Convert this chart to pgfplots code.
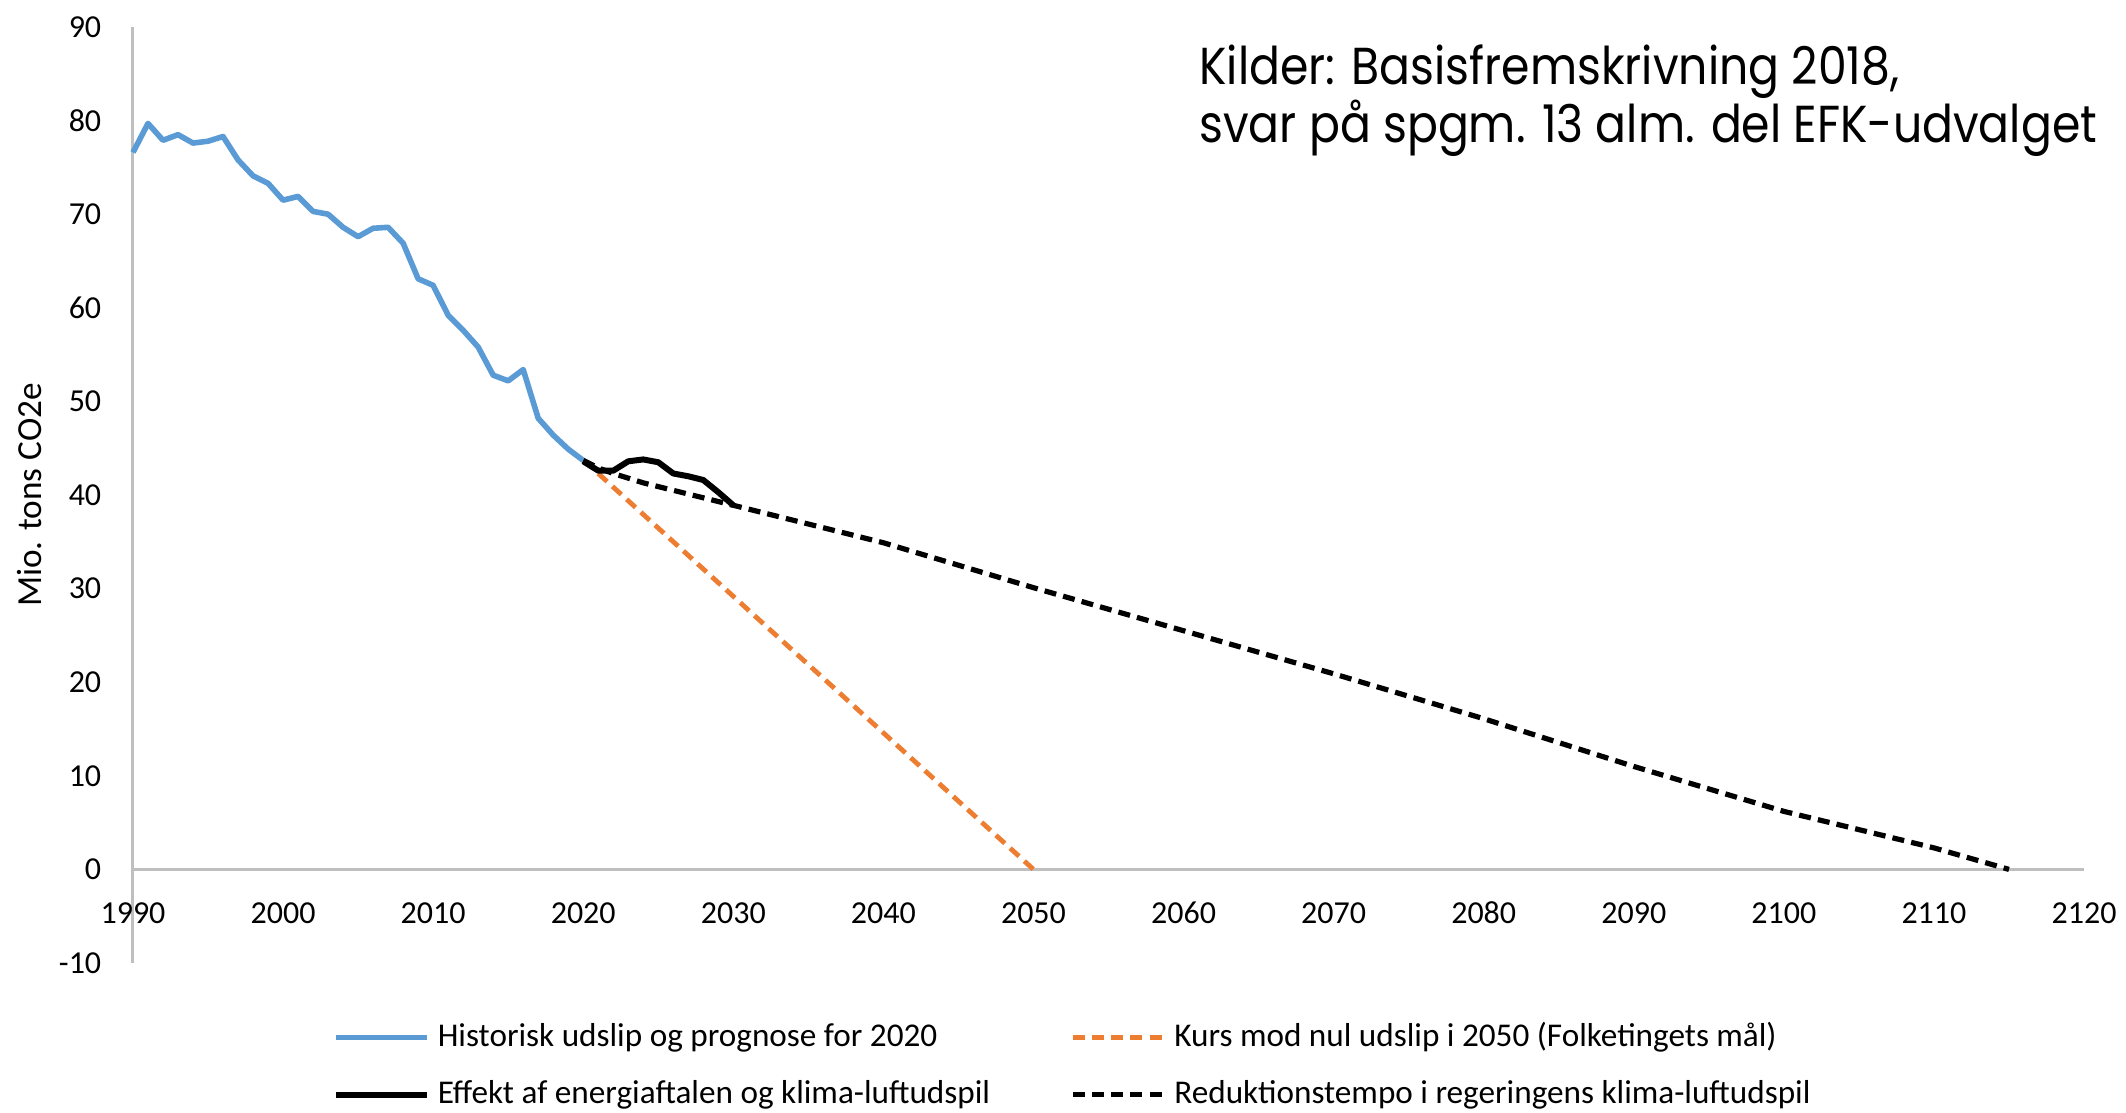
\documentclass[border=0pt]{standalone}
\usepackage{pgfplots}
\pgfplotsset{compat=1.18}
\usepackage{fontspec}
\setmainfont{Carlito}
\newfontfamily\annfont{Poppins}
\usepackage{graphicx}
\definecolor{histblue}{HTML}{5B9BD5}
\definecolor{kursorange}{HTML}{ED7D31}
\definecolor{axisgray}{HTML}{BFBFBF}
\begin{document}
\begin{tikzpicture}
\path[use as bounding box] (-33.25pt,-37.35pt) rectangle (498.25pt,240.75pt);
\begin{axis}[
  scale only axis, width=487.75pt, height=234pt,
  xmin=1990, xmax=2120, ymin=-10, ymax=90,
  axis x line*=middle, axis y line*=left,
  axis line style={axisgray, line width=0.75pt, -},
  xtick={1990,2000,...,2120}, ytick={-10,0,...,90},
  major tick length=0pt,
  hide obscured x ticks=false, hide obscured y ticks=false,
  /pgf/number format/assume math mode=true,
  x tick label style={/pgf/number format/1000 sep={}, font=\fontsize{8}{9}\selectfont, anchor=north, inner sep=0pt, text height=5.2pt, text depth=0pt, yshift=-8pt},
  y tick label style={font=\fontsize{8}{9}\selectfont, anchor=east, inner sep=0pt, xshift=-7.75pt},
  ylabel={Mio. tons CO2e},
  ylabel style={at={(axis description cs:-0.0528,0.5)}, anchor=center, font=\fontsize{8.8}{10}\selectfont},
  clip=false,
  legend columns=2,
  legend cell align=left,
  legend image code/.code={\draw[#1] (0pt,0pt) -- (22.75pt,0pt);},
  legend style={draw=none, fill=none, inner sep=0pt, anchor=north west,
    at={(axis description cs:0.102,-0.054)},
    font=\fontsize{8.3}{10}\selectfont, row sep=2.85pt,
    /tikz/every even column/.append style={column sep=18pt}},
]
\addplot[histblue, line width=1.4pt, line join=round] coordinates {
(1990,76.6) (1991,79.7) (1992,77.9) (1993,78.5) (1994,77.6) (1995,77.8) (1996,78.3)
(1997,75.8) (1998,74.1) (1999,73.3) (2000,71.5) (2001,71.9) (2002,70.3) (2003,70.0)
(2004,68.6) (2005,67.6) (2006,68.5) (2007,68.6) (2008,66.9) (2009,63.1) (2010,62.4)
(2011,59.2) (2012,57.6) (2013,55.8) (2014,52.8) (2015,52.2) (2016,53.4) (2017,48.2)
(2018,46.4) (2019,44.9) (2020,43.7)};
\addlegendentry{Historisk udslip og prognose for 2020}
\addplot[kursorange, line width=1.2pt, dash pattern=on 3pt off 1.8pt] coordinates {
(2021,42.3) (2050,0)};
\addlegendentry{Kurs mod nul udslip i 2050 (Folketingets mål)}
\addplot[black, line width=1.5pt, line join=round] coordinates {
(2020,43.6) (2021,42.6) (2022,42.6) (2023,43.6) (2024,43.8) (2025,43.5) (2026,42.3)
(2027,42.0) (2028,41.6) (2029,40.3) (2030,38.9)};
\addlegendentry{Effekt af energiaftalen og klima-luftudspil}
\addplot[black, line width=1.3pt, dash pattern=on 3pt off 1.8pt] coordinates {
(2020,43.7) (2021,42.9) (2022,42.3) (2023,41.8) (2024,41.3) (2025,40.9) (2026,40.5)
(2027,40.1) (2028,39.7) (2029,39.3) (2030,38.9) (2040,34.9) (2050,30.1) (2060,25.5)
(2070,20.9) (2080,16.1) (2090,11.0) (2100,6.2) (2110,2.3) (2115,0)};
\addlegendentry{Reduktionstempo i regeringens klima-luftudspil}
\node[anchor=base west, inner sep=0pt, font=\annfont\fontsize{13}{15}\selectfont] at (axis cs:2061,83.9) {\scalebox{0.88}[1]{Kilder: Basisfremskrivning 2018,}};
\node[anchor=base west, inner sep=0pt, font=\annfont\fontsize{13}{15}\selectfont] at (axis cs:2061,77.7) {\scalebox{0.88}[1]{svar på spgm. 13 alm. del EFK-udvalget}};
\end{axis}
\end{tikzpicture}
\end{document}
